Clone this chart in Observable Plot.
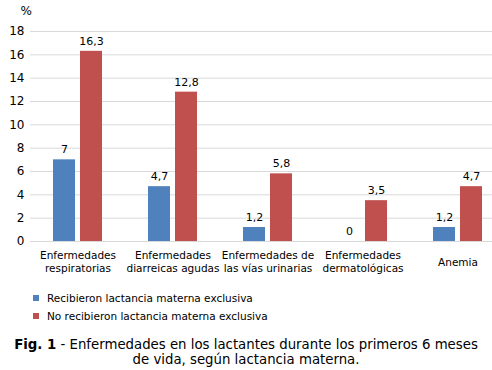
<!DOCTYPE html>
<html>
<head>
<meta charset="utf-8">
<script src="https://cdn.jsdelivr.net/npm/d3@7"></script>
<script src="https://cdn.jsdelivr.net/npm/@observablehq/plot@0.6"></script>
<style>
  body { margin: 0; background: #fff; font-family: "DejaVu Sans", Verdana, sans-serif; color: #000; }
  #wrap { width: 492px; height: 370px; position: relative; overflow: hidden; }
  .legend { position: absolute; left: 33px; font-size: 10.5px; }
  .legend .row { display: flex; align-items: center; height: 18px; }
  .legend .sw { width: 6px; height: 6px; margin-right: 8px; }
  .caption { position: absolute; left: 0; width: 492px; top: 337px; text-align: center; font-size: 13.3px; line-height: 15px; }
</style>
</head>
<body>
<div id="wrap">
  <div id="chart"></div>
  <div class="legend" id="legend" style="top:289px"></div>
  <div class="caption"><b>Fig. 1</b> - Enfermedades en los lactantes durante los primeros 6 meses<br>de vida, según lactancia materna.</div>
</div>
<script>
const categories = [
  "Enfermedades\nrespiratorias",
  "Enfermedades\ndiarreicas agudas",
  "Enfermedades de\nlas vías urinarias",
  "Enfermedades\ndermatológicas",
  "Anemia"
];
const series = ["Recibieron lactancia materna exclusiva", "No recibieron lactancia materna exclusiva"];
const colors = ["#4f81bd", "#c0504d"];
const recibieron = [7, 4.7, 1.2, 0, 1.2];
const noRecibieron = [16.3, 12.8, 5.8, 3.5, 4.7];
const yTicks = [0, 2, 4, 6, 8, 10, 12, 14, 16, 18];

const blue = categories.map((c, i) => ({cat: c, value: recibieron[i]}));
const red = categories.map((c, i) => ({cat: c, value: noRecibieron[i]}));
const fmt = v => String(v).replace(".", ",");

const chart = Plot.plot({
  width: 492,
  height: 286,
  marginLeft: 30,
  marginRight: 0,
  marginTop: 31,
  marginBottom: 45,
  style: {fontFamily: "DejaVu Sans, Verdana, sans-serif", fontSize: "11px", color: "#000", background: "#fff"},
  x: {domain: categories, range: [30, 505], padding: 0, axis: null},
  y: {domain: [0, 18]},
  marks: [
    Plot.gridY(yTicks, {stroke: "#d9d9d9", strokeOpacity: 1}),
    Plot.axisY({ticks: yTicks, tickSize: 0, tickPadding: 6, fontSize: 12, label: null}),
    Plot.text(["%"], {frameAnchor: "top-left", text: d => d, dx: -10, dy: -25, fontSize: 12, fill: "#000"}),
    Plot.barY(blue, {x: "cat", y: "value", fill: colors[0], insetLeft: 23, insetRight: 50}),
    Plot.barY(red, {x: "cat", y: "value", fill: colors[1], insetLeft: 50, insetRight: 23}),
    Plot.text(blue, {x: "cat", y: "value", text: d => fmt(d.value), dx: -13.5, dy: -10, fill: "#000"}),
    Plot.text(red, {x: "cat", y: "value", text: d => fmt(d.value), dx: 13.5, dy: -10, fill: "#000"}),
    Plot.text(categories, {x: d => d, y: () => 0, text: d => d, dy: 20, lineAnchor: "middle", lineHeight: 1.22, fontSize: 10.5, fill: "#000"})
  ]
});
document.getElementById("chart").appendChild(chart);

const legend = document.getElementById("legend");
series.forEach((s, i) => {
  const row = document.createElement("div");
  row.className = "row";
  const sw = document.createElement("div");
  sw.className = "sw";
  sw.style.background = colors[i];
  const t = document.createElement("span");
  t.textContent = s;
  row.appendChild(sw);
  row.appendChild(t);
  legend.appendChild(row);
});
</script>
</body>
</html>
